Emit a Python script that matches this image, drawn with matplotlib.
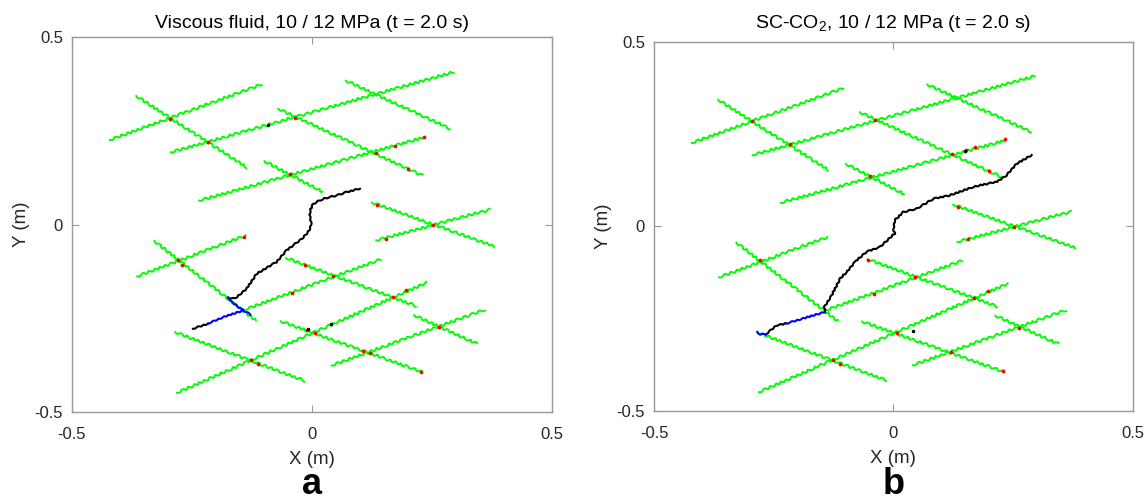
import numpy as np
import matplotlib.pyplot as plt

plt.rcParams['font.family'] = ['Liberation Sans', 'DejaVu Sans']
plt.rcParams['mathtext.fontset'] = 'custom'
plt.rcParams['mathtext.rm'] = 'Liberation Sans'
plt.rcParams['axes.unicode_minus'] = False

# natural fractures (same network in both runs): start / end points
nf_x0 = [-0.421, -0.294, -0.235, 0.134, -0.364, -0.140, -0.281, 0.041,
         -0.366, 0.071, -0.070, -0.099, 0.125, -0.328, -0.054, -0.065, 0.213, -0.285]
nf_y0 = [0.226, 0.193, 0.064, -0.042, -0.138, -0.227, -0.449, -0.376,
         0.343, 0.384, 0.309, 0.169, 0.059, -0.044, -0.089, -0.258, -0.242, -0.287]
nf_x1 = [-0.105, 0.295, 0.234, 0.371, -0.138, 0.143, 0.239, 0.360,
         -0.136, 0.288, 0.230, 0.022, 0.380, -0.117, 0.217, 0.229, 0.344, -0.015]
nf_y1 = [0.374, 0.407, 0.233, 0.040, -0.029, -0.093, -0.155, -0.227,
         0.153, 0.256, 0.131, 0.088, -0.058, -0.256, -0.217, -0.393, -0.318, -0.417]

# (a) viscous fluid: hydraulic fracture traces
a_black = [
    ([-0.248, -0.216], [-0.278, -0.264]),
    ([-0.175, -0.161, -0.136, -0.115, -0.091, -0.074, -0.053, -0.021, -0.008,
      -0.001, -0.004, -0.004, 0.003, 0.024, 0.052, 0.073, 0.100],
     [-0.195, -0.198, -0.171, -0.131, -0.113, -0.100, -0.069, -0.038, -0.020,
      -0.002, 0.020, 0.038, 0.056, 0.069, 0.078, 0.087, 0.096]),
]
a_blue = [
    ([-0.216, -0.185, -0.143], [-0.264, -0.247, -0.229]),
    ([-0.143, -0.167, -0.175], [-0.229, -0.207, -0.195]),
    ([-0.143, -0.128], [-0.229, -0.240]),
]
a_red_x = [-0.296, -0.035, 0.173, 0.201, 0.234, 0.133, -0.216, -0.046, 0.135, 0.252,
           0.154, -0.141, -0.279, -0.270, -0.015, 0.044, -0.041, 0.170, 0.197, -0.010,
           0.006, 0.107, 0.121, 0.264, -0.127, -0.112, 0.227]
a_red_y = [0.282, 0.284, 0.211, 0.149, 0.233, 0.192, 0.220, 0.134, 0.053, -0.002,
           -0.038, -0.033, -0.094, -0.107, -0.107, -0.138, -0.183, -0.193, -0.174, -0.280,
           -0.288, -0.338, -0.342, -0.273, -0.362, -0.371, -0.393]
a_dark_x = [-0.091, -0.008, 0.040]
a_dark_y = [0.267, -0.278, -0.264]

# (b) SC-CO2: hydraulic fracture traces
b_black = [
    ([-0.266, -0.244, -0.223], [-0.292, -0.268, -0.263]),
    ([-0.143, -0.144, -0.129, -0.111, -0.097, -0.077, -0.056, -0.028, 0.003, 0.000,
      0.003, 0.021, 0.049, 0.084, 0.118, 0.167, 0.216, 0.233, 0.258, 0.289],
     [-0.232, -0.218, -0.187, -0.141, -0.123, -0.092, -0.069, -0.056, -0.019, -0.006,
      0.017, 0.039, 0.048, 0.075, 0.084, 0.107, 0.121, 0.134, 0.170, 0.193]),
]
b_blue = [
    ([-0.284, -0.278, -0.266], [-0.286, -0.293, -0.292]),
    ([-0.223, -0.185, -0.143], [-0.263, -0.248, -0.232]),
]
b_red_x = [-0.296, -0.038, -0.216, -0.049, 0.122, 0.152, 0.171, 0.200, 0.233, 0.136,
           0.251, 0.155, -0.279, -0.054, 0.045, -0.040, 0.169, 0.198, 0.007, 0.120,
           0.263, -0.127, -0.111, 0.228]
b_red_y = [0.286, 0.288, 0.223, 0.137, 0.197, 0.206, 0.214, 0.150, 0.236, 0.053,
           -0.001, -0.035, -0.092, -0.090, -0.137, -0.182, -0.194, -0.175, -0.289, -0.340,
           -0.274, -0.363, -0.372, -0.392]
b_dark_x = [0.150, 0.040]
b_dark_y = [0.205, -0.284]

panels = [
    ('Viscous fluid, 10 / 12 MPa (t = 2.0 s)', 'a', a_black, a_blue, a_red_x, a_red_y,
     a_dark_x, a_dark_y, [0.0627, 0.181, 0.418, 0.745]),
    ('SC-CO$_2$, 10 / 12 MPa (t = 2.0 s)', 'b', b_black, b_blue, b_red_x, b_red_y,
     b_dark_x, b_dark_y, [0.5697, 0.183, 0.417, 0.734]),
]

fig = plt.figure(figsize=(11.48, 5.03), dpi=100)

for title, tag, black, blue, rx, ry, dx, dy, pos in panels:
    ax = fig.add_axes(pos)
    for i in range(len(nf_x0)):
        ln, = ax.plot([nf_x0[i], nf_x1[i]], [nf_y0[i], nf_y1[i]], color='#00ff00', lw=1.4)
        ln.set_sketch_params(scale=1.1, length=7, randomness=2)
    for xs, ys in black:
        ln, = ax.plot(xs, ys, color='black', lw=1.5)
        ln.set_sketch_params(scale=0.6, length=6, randomness=2)
    for xs, ys in blue:
        ln, = ax.plot(xs, ys, color='#0000ff', lw=1.5)
        ln.set_sketch_params(scale=0.6, length=6, randomness=2)
    ax.plot(rx, ry, 'o', ms=2.2, color='red', mec='red', mew=0.5, ls='none')
    ax.plot(dx, dy, 'o', ms=1.5, color='black', ls='none')

    ax.set_xlim(-0.5, 0.5)
    ax.set_ylim(-0.5, 0.5)
    ax.set_xticks([-0.5, 0, 0.5])
    ax.set_yticks([-0.5, 0, 0.5])
    ax.set_xticklabels(['-0.5', '0', '0.5'])
    ax.set_yticklabels(['-0.5', '0', '0.5'])
    ax.tick_params(direction='in', length=5, width=0.8, color='#999999',
                   top=True, right=True, labelsize=12, labelcolor='#262626')
    ax.tick_params(axis='x', pad=10.5)
    ax.tick_params(axis='y', pad=6.5)
    for s in ax.spines.values():
        s.set_color('#999999')
        s.set_linewidth(1.0)
    ax.set_xlabel('X (m)', fontsize=13.5, color='#262626')
    ax.set_ylabel('Y (m)', fontsize=13.5, color='#262626')
    ax.xaxis.set_label_coords(0.5, -0.105)
    ax.yaxis.set_label_coords(-0.088, 0.5)

    # title and panel tag placed by pixel row
    cx = pos[0] + pos[2] / 2
    fig.text(cx, 1 - 28 / 503, title, ha='center', va='baseline', fontsize=14)
    fig.text(cx, 0.002, tag, ha='center', va='bottom',
             fontsize=26, fontweight='bold')

fig.savefig('out.png', dpi=100)
